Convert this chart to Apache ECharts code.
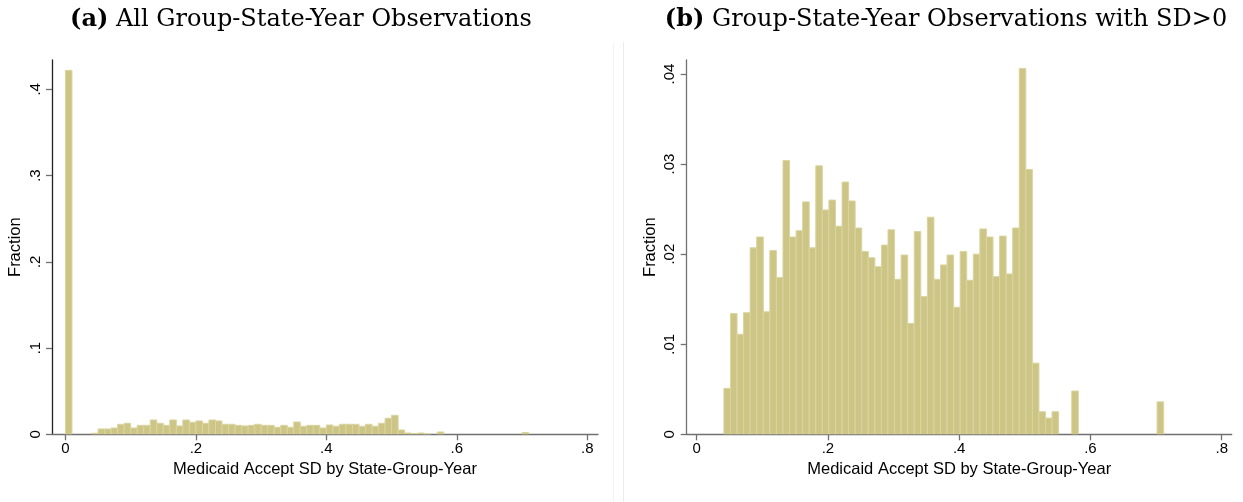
<!DOCTYPE html>
<html>
<head>
<meta charset="utf-8">
<script src="https://cdn.jsdelivr.net/npm/echarts@6/dist/echarts.min.js"></script>
<style>
  html, body { margin: 0; padding: 0; background: #fff; }
  #chart { width: 1243px; height: 502px; }
</style>
</head>
<body>
<div id="chart"></div>
<script>
// ---------- data ----------
const binWidth = 0.01;
// Panel (a): all observations, bins start at 0
const binStartA = 0;
const fracA = [
  0.422, 0, 0, 0, 0.0012, 0.0062, 0.0062, 0.0073, 0.0116, 0.0128,
  0.0073, 0.0104, 0.0104, 0.0166, 0.0128, 0.0104, 0.0166, 0.0097, 0.0166, 0.0139,
  0.0155, 0.0128, 0.0166, 0.0155, 0.0116, 0.0116, 0.0104, 0.0097, 0.0104, 0.0116,
  0.0104, 0.0104, 0.0081, 0.0104, 0.0081, 0.0143, 0.0093, 0.0104, 0.0104, 0.0073,
  0.0108, 0.0093, 0.0116, 0.0116, 0.0116, 0.0093, 0.0116, 0.0093, 0.0128, 0.0186,
  0.0220, 0.0050, 0.0015, 0.0008, 0.0015, 0.0004, 0, 0.0027, 0, 0,
  0, 0, 0, 0, 0, 0, 0, 0, 0, 0,
  0.0020
];
// Panel (b): observations with SD>0, bins start at the minimum
const binStartB = 0.0415;
const fracB = [
  0.0051, 0.0134, 0.0111, 0.0135, 0.0207, 0.0219, 0.0136, 0.0204, 0.0174, 0.0304,
  0.0219, 0.0226, 0.0258, 0.0207, 0.0298, 0.0249, 0.0260, 0.0231, 0.0280, 0.0259,
  0.0229, 0.0203, 0.0196, 0.0186, 0.0210, 0.0227, 0.0172, 0.0199, 0.0123, 0.0225,
  0.0153, 0.0241, 0.0172, 0.0188, 0.0199, 0.0141, 0.0203, 0.0171, 0.0200, 0.0228,
  0.0219, 0.0175, 0.0220, 0.0178, 0.0229, 0.0406, 0.0294, 0.0079, 0.0025, 0.0018,
  0.0025, 0, 0, 0.0048, 0, 0, 0, 0, 0, 0,
  0, 0, 0, 0, 0, 0, 0.0036
];
const xTicks = [0, 0.2, 0.4, 0.6, 0.8];
const yTicksA = [0, 0.1, 0.2, 0.3, 0.4];
const yTicksB = [0, 0.01, 0.02, 0.03, 0.04];
const titleA = 'All Group-State-Year Observations';
const titleB = 'Group-State-Year Observations with SD>0';
const xTitle = 'Medicaid Accept SD by State-Group-Year';
const yTitle = 'Fraction';

// ---------- build ----------
function bins(start, vals) {
  return vals.map((v, i) => [start + i * binWidth, start + (i + 1) * binWidth, v]);
}
function stripZero(v) {
  if (v === 0) return '0';
  return String(+v.toFixed(3)).replace(/^0\./, '.');
}
const barFill = '#cdc585';
const barStroke = '#dad49f';
function renderBar(params, api) {
  const v = api.value(2);
  if (!v) return null;
  const p0 = api.coord([api.value(0), 0]);
  const p1 = api.coord([api.value(1), v]);
  return {
    type: 'rect',
    shape: { x: p0[0], y: p1[1], width: p1[0] - p0[0], height: p0[1] - p1[1] },
    style: { fill: barFill, stroke: barStroke, lineWidth: 1 }
  };
}
const sans = 'Liberation Sans, Arial, Helvetica, sans-serif';
const serif = 'DejaVu Serif, serif';
const axisGray = '#707070';
const titleSize = 24;
const nameSize = 16.5;

function xAxisCfg(gi, min, max) {
  return {
    type: 'value', gridIndex: gi, min: min, max: max,
    splitLine: { show: false },
    axisLine: { show: true, onZero: false, lineStyle: { color: axisGray, width: 1.3 } },
    axisTick: { show: true, length: 6, lineStyle: { color: axisGray, width: 1.3 }, customValues: xTicks },
    axisLabel: { customValues: xTicks, formatter: stripZero, color: '#000', fontFamily: sans, fontSize: 15, margin: 7 },
    name: xTitle, nameLocation: 'middle', nameGap: 25,
    nameTextStyle: { color: '#000', fontFamily: sans, fontSize: nameSize }
  };
}
function yAxisCfg(gi, max, ticks, lineColor) {
  return {
    type: 'value', gridIndex: gi, min: 0, max: max,
    splitLine: { show: false },
    axisLine: { show: true, onZero: false, lineStyle: { color: lineColor, width: 1.3 } },
    axisTick: { show: true, length: 6, lineStyle: { color: axisGray, width: 1.3 }, customValues: ticks },
    axisLabel: { customValues: ticks, formatter: stripZero, rotate: 90, color: '#000', fontFamily: sans, fontSize: 15, margin: 9 },
    name: yTitle, nameLocation: 'middle', nameGap: 28, nameRotate: 90,
    nameTextStyle: { color: '#000', fontFamily: sans, fontSize: nameSize }
  };
}

const chart = echarts.init(document.getElementById('chart'), null, { renderer: 'canvas' });
chart.setOption({
  animation: false,
  backgroundColor: '#fff',
  title: [
    { text: '{b|(a)} ' + titleA, left: 296, top: 3, textAlign: 'center',
      textStyle: { fontFamily: serif, fontSize: titleSize, fontWeight: 'normal', color: '#000',
        rich: { b: { fontFamily: serif, fontSize: titleSize, fontWeight: 'bold', color: '#000' } } } },
    { text: '{b|(b)} ' + titleB, left: 941, top: 3, textAlign: 'center',
      textStyle: { fontFamily: serif, fontSize: titleSize, fontWeight: 'normal', color: '#000',
        rich: { b: { fontFamily: serif, fontSize: titleSize, fontWeight: 'bold', color: '#000' } } } }
  ],
  grid: [
    { left: 52, top: 60, width: 546, height: 374.3 },
    { left: 686.7, top: 60, width: 545, height: 374.3 }
  ],
  xAxis: [xAxisCfg(0, -0.0206, 0.8164), xAxisCfg(1, -0.0152, 0.8152)],
  yAxis: [yAxisCfg(0, 0.434, yTicksA, '#222'), yAxisCfg(1, 0.04155, yTicksB, axisGray)],
  series: [
    { type: 'custom', xAxisIndex: 0, yAxisIndex: 0, renderItem: renderBar,
      encode: { x: [0, 1], y: 2 }, data: bins(binStartA, fracA), clip: true },
    { type: 'custom', xAxisIndex: 1, yAxisIndex: 1, renderItem: renderBar,
      encode: { x: [0, 1], y: 2 }, data: bins(binStartB, fracB), clip: true }
  ],
  graphic: [
    { type: 'line', shape: { x1: 613.5, y1: 42, x2: 613.5, y2: 502 }, style: { stroke: '#f3f3f3', lineWidth: 1 }, silent: true },
    { type: 'line', shape: { x1: 623.5, y1: 42, x2: 623.5, y2: 502 }, style: { stroke: '#ececec', lineWidth: 1 }, silent: true }
  ]
});
</script>
</body>
</html>
